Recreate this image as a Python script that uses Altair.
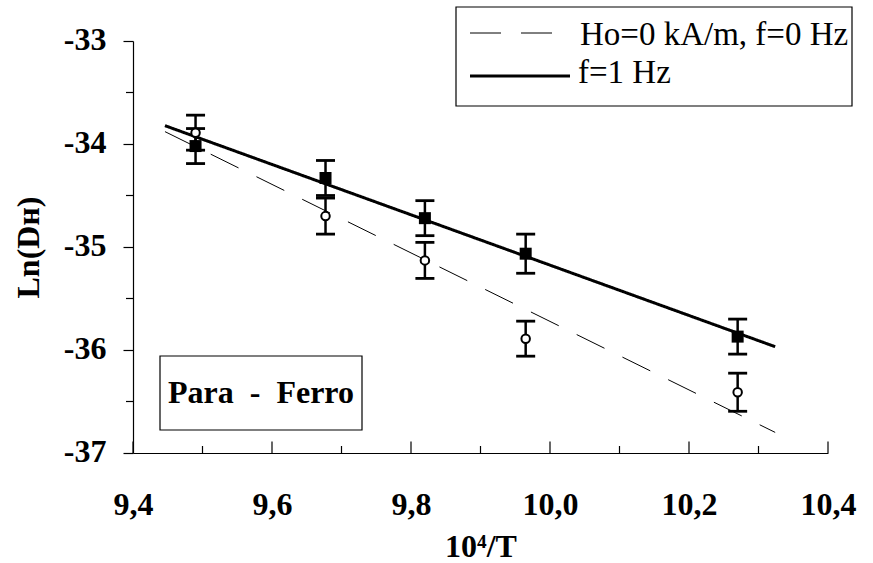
import altair as alt
import pandas as pd

# ---- data ----
x_temp = [9.49, 9.677, 9.82, 9.965, 10.27]
y_f1 = [-34.02, -34.33, -34.72, -35.065, -35.87]
err_f1 = [0.17, 0.17, 0.17, 0.19, 0.17]
y_f0 = [-33.89, -34.70, -35.13, -35.89, -36.41]
err_f0 = [0.17, 0.175, 0.175, 0.17, 0.185]

fit_x = [9.446, 10.324]
fit_f1 = [-33.822, -35.968]
fit_f0 = [-33.88, -36.80]

series_names = ["Ho=0 kA/m, f=0 Hz", "f=1 Hz"]
x_major = [9.4, 9.6, 9.8, 10.0, 10.2, 10.4]
x_minor = [9.5, 9.7, 9.9, 10.1, 10.3]
y_major = [-37, -36, -35, -34, -33]
y_minor = [-36.5, -35.5, -34.5, -33.5]
annotation = "Para\u00a0\u00a0-\u00a0\u00a0Ferro"

# ---- tables ----
pts = pd.DataFrame(
    {"x": x_temp + x_temp,
     "y": y_f0 + y_f1,
     "err": err_f0 + err_f1,
     "series": [series_names[0]] * 5 + [series_names[1]] * 5}
)
fits = pd.DataFrame(
    {"x": fit_x + fit_x,
     "y": fit_f0 + fit_f1,
     "series": [series_names[0]] * 2 + [series_names[1]] * 2}
)
xmaj = pd.DataFrame({"x": x_major})
xmin = pd.DataFrame({"x": x_minor})
ymin = pd.DataFrame({"y": y_minor})
one = pd.DataFrame({"a": [0]})

W, H = 695, 412
FONT = "Liberation Serif, Times New Roman, Tinos, serif"

xs = alt.Scale(domain=[9.4, 10.4], nice=False, zero=False)
ys = alt.Scale(domain=[-37, -33], nice=False, zero=False)

x_axis = alt.Axis(
    values=x_major, ticks=False, tickSize=0, grid=False,
    labelExpr="replace(format(datum.value, '.1f'), '.', ',')",
    labelPadding=36, labelFlush=False, labelOverlap=False,
    titlePadding=11, domainColor="black", domainWidth=1.2,
)
y_axis = alt.Axis(
    values=y_major, ticks=True, tickSize=10, tickWidth=1.2, tickColor="black",
    grid=False, labelExpr="'' + datum.value", labelPadding=17,
    labelOffset=-2, labelOverlap=False, titlePadding=18,
    domainColor="black", domainWidth=1.2,
)

YT = "Ln(D\u029c)"
X = alt.X("x:Q", scale=xs, axis=x_axis, title="10\u2074/T")
Y = alt.Y("y:Q", scale=ys, axis=y_axis, title=YT)

base = alt.Chart(pts).transform_calculate(
    lo="datum.y - datum.err", hi="datum.y + datum.err"
)

err_rule = base.mark_rule(color="black", strokeWidth=2.5).encode(
    x=X, y=alt.Y("lo:Q", scale=ys, axis=y_axis, title=YT), y2="hi:Q"
)
cap_lo = base.mark_tick(orient="horizontal", color="black", size=19,
                        thickness=2.8, opacity=1).encode(
    x=X, y=alt.Y("lo:Q", scale=ys, axis=y_axis, title=YT)
)
cap_hi = base.mark_tick(orient="horizontal", color="black", size=19,
                        thickness=2.8, opacity=1).encode(
    x=X, y=alt.Y("hi:Q", scale=ys, axis=y_axis, title=YT)
)

lines = alt.Chart(fits).mark_line(color="black").encode(
    x=X, y=Y,
    strokeDash=alt.StrokeDash(
        "series:N",
        scale=alt.Scale(domain=series_names, range=[[31, 20], [1, 0]]),
        legend=None,
    ),
    strokeWidth=alt.StrokeWidth(
        "series:O",
        scale=alt.Scale(domain=series_names, range=[1, 3]),
        legend=None,
    ),
    detail="series:N",
)

squares = alt.Chart(pts).transform_filter(
    alt.datum.series == series_names[1]
).mark_point(shape="square", filled=True, color="black", size=144,
             opacity=1).encode(x=X, y=Y)

circles = alt.Chart(pts).transform_filter(
    alt.datum.series == series_names[0]
).mark_point(shape="circle", filled=True, fill="white", stroke="black",
             strokeWidth=2, size=72, opacity=1).encode(x=X, y=Y)

xtick_major = alt.Chart(xmaj).mark_rule(color="black", strokeWidth=1.2).encode(
    x=X, y=alt.value(H), y2=alt.value(H - 11.5)
)
xtick_minor = alt.Chart(xmin).mark_rule(color="black", strokeWidth=1.2).encode(
    x=X, y=alt.value(H), y2=alt.value(H - 7)
)
ytick_minor = alt.Chart(ymin).mark_rule(color="black", strokeWidth=1.2).encode(
    y=Y, x=alt.value(-7), x2=alt.value(0)
)

# annotation box
box = alt.Chart(one).mark_rect(
    fill="white", stroke="black", strokeWidth=1.2
).encode(x=alt.value(27), x2=alt.value(229), y=alt.value(315), y2=alt.value(389))
box_text = alt.Chart(one).mark_text(
    text=annotation, align="left", baseline="alphabetic", font=FONT,
    fontSize=32, fontWeight="bold", color="black"
).encode(x=alt.value(35), y=alt.value(362))

# legend (framed box, top right)
leg_box = alt.Chart(one).mark_rect(
    fill="white", stroke="black", strokeWidth=1.2
).encode(x=alt.value(323), x2=alt.value(719), y=alt.value(-34), y2=alt.value(65))
leg_dash = alt.Chart(one).mark_rule(
    color="black", strokeWidth=1, strokeDash=[31, 20]
).encode(x=alt.value(337), x2=alt.value(437), y=alt.value(-8))
leg_solid = alt.Chart(one).mark_rule(
    color="black", strokeWidth=3
).encode(x=alt.value(337), x2=alt.value(437), y=alt.value(35))
leg_t1 = alt.Chart(one).mark_text(
    text=series_names[0], align="left", baseline="alphabetic", font=FONT,
    fontSize=33, color="black"
).encode(x=alt.value(447), y=alt.value(4))
leg_t2 = alt.Chart(one).mark_text(
    text=series_names[1], align="left", baseline="alphabetic", font=FONT,
    fontSize=33, color="black"
).encode(x=alt.value(445), y=alt.value(42))

chart = alt.layer(
    err_rule, cap_lo, cap_hi, lines, squares, circles,
    xtick_major, xtick_minor, ytick_minor, box, box_text,
    leg_box, leg_dash, leg_solid, leg_t1, leg_t2
).properties(
    width=W, height=H,
    autosize=alt.AutoSizeParams(type="none"),
    padding={"left": 133, "top": 41, "right": 45, "bottom": 110},
    background="white",
).configure_view(
    stroke=None
).configure_axis(
    labelFont=FONT, labelFontSize=32, labelFontWeight="bold", labelColor="black",
    titleFont=FONT, titleFontSize=32, titleFontWeight="bold", titleColor="black",
)

chart.save("out.html", embed_options={"renderer": "svg", "actions": False})
